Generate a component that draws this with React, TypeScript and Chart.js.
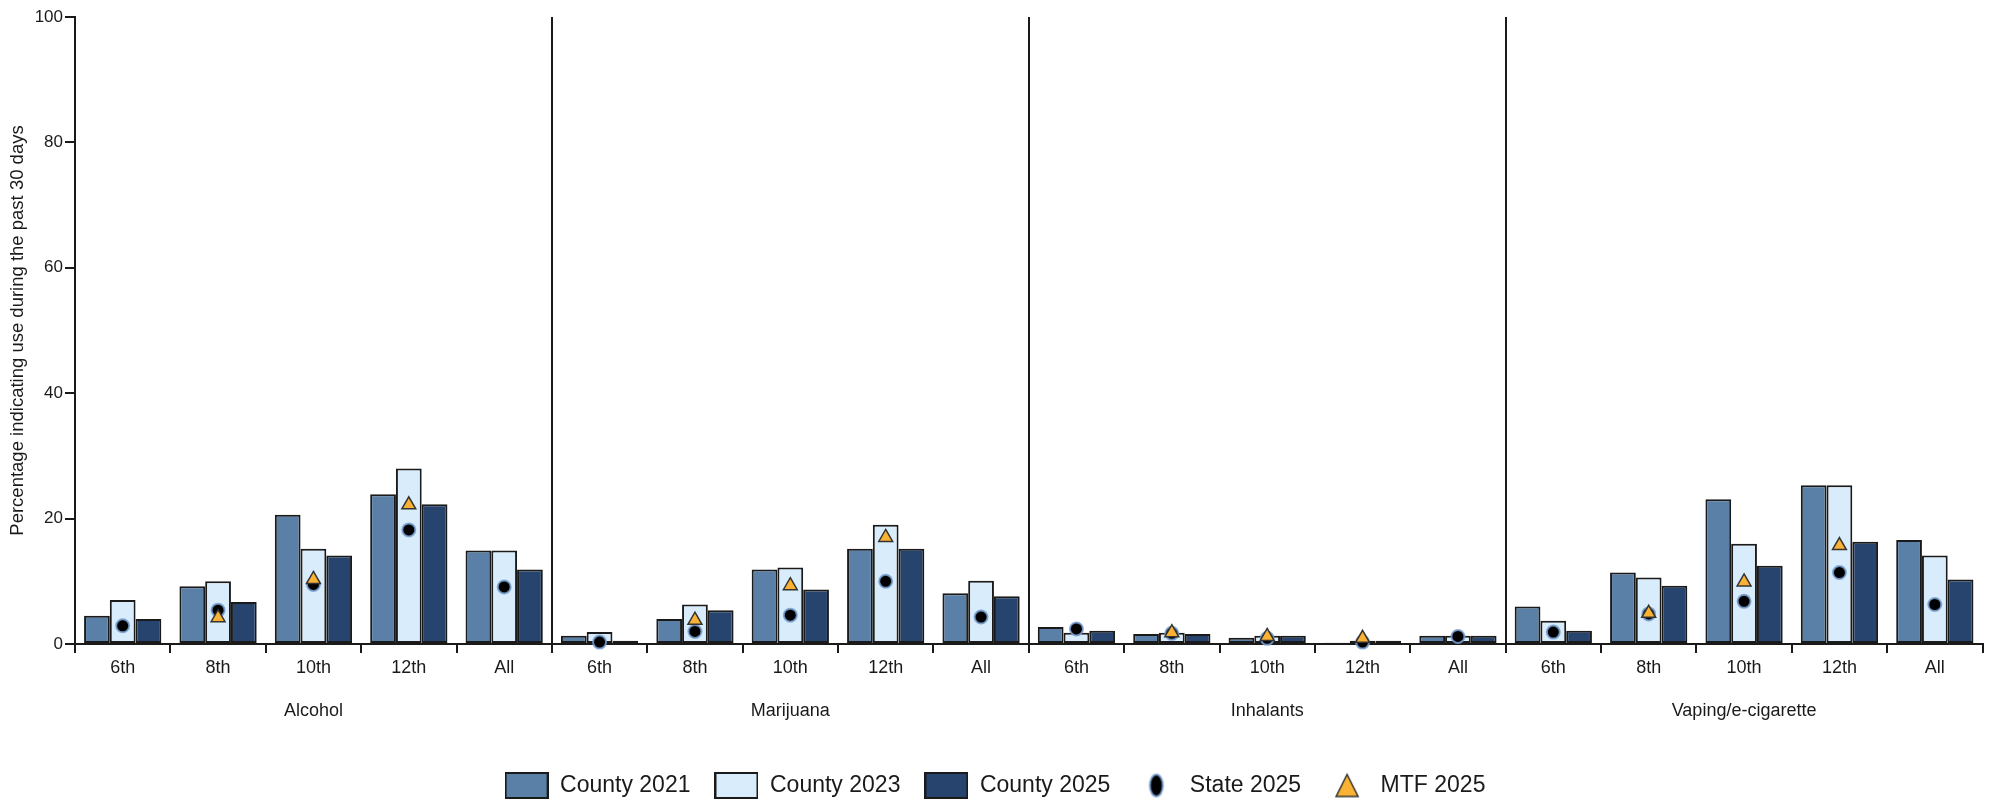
import { useEffect, useRef } from 'react';
import { Chart, registerables } from 'chart.js';

Chart.register(...registerables);

const substances = ['Alcohol', 'Marijuana', 'Inhalants', 'Vaping/e-cigarette'];
const grades = ['6th', '8th', '10th', '12th', 'All'];

// order: Alcohol(6th,8th,10th,12th,All), Marijuana(...), Inhalants(...), Vaping(...)
const county2021 = [4.5, 9.2, 20.6, 23.9, 14.9, 1.3, 4.0, 11.9, 15.2, 8.1, 2.7, 1.6, 1.0, 0.2, 1.3, 6.0, 11.4, 23.1, 25.3, 16.6];
const county2023 = [7.0, 10.0, 15.2, 28.0, 14.9, 1.9, 6.3, 12.2, 19.0, 10.1, 1.8, 1.8, 1.3, 0.5, 1.3, 3.7, 10.6, 16.0, 25.3, 14.1];
const county2025 = [4.0, 6.7, 14.1, 22.3, 11.9, 0.5, 5.4, 8.7, 15.2, 7.6, 2.1, 1.6, 1.3, 0.5, 1.3, 2.1, 9.3, 12.5, 16.3, 10.3];
const state2025 = [2.9, 5.4, 9.5, 18.2, 9.1, 0.3, 2.0, 4.6, 10.0, 4.3, 2.4, 1.7, 0.9, 0.3, 1.2, 1.9, 4.8, 6.8, 11.4, 6.3];
const mtf2025 = [null, 4.2, 10.3, 22.2, null, null, 3.8, 9.3, 17.0, null, null, 1.8, 1.2, 0.9, null, null, 4.9, 9.9, 15.7, null];

const yTicks = [0, 20, 40, 60, 80, 100];
const yTitle = 'Percentage indicating use during the past 30 days';
const seriesNames = ['County 2021', 'County 2023', 'County 2025', 'State 2025', 'MTF 2025'];

const FONT = '"Liberation Sans", Arial, sans-serif';
const INK = '#1a1a1a';
const C2021 = '#5b80a8';
const C2023 = '#d9ecfb';
const C2025 = '#26446e';
const ORANGE = '#f9b233';
const HALO = 'rgba(120,160,210,0.85)';

function makeBoxIcon(fill: string) {
  const c = document.createElement('canvas');
  c.width = 44;
  c.height = 27;
  const g = c.getContext('2d')!;
  g.fillStyle = fill;
  g.fillRect(1, 1, 42, 25);
  g.strokeStyle = INK;
  g.lineWidth = 2;
  g.strokeRect(1, 1, 42, 25);
  return c;
}

function makeCircleIcon() {
  const c = document.createElement('canvas');
  c.width = 18;
  c.height = 26;
  const g = c.getContext('2d')!;
  g.beginPath();
  g.ellipse(9, 13, 6.5, 11, 0, 0, Math.PI * 2);
  g.fillStyle = '#000';
  g.fill();
  g.strokeStyle = HALO;
  g.lineWidth = 2;
  g.stroke();
  return c;
}

function makeTriangleIcon() {
  const c = document.createElement('canvas');
  c.width = 26;
  c.height = 26;
  const g = c.getContext('2d')!;
  g.beginPath();
  g.moveTo(13, 2);
  g.lineTo(24, 24);
  g.lineTo(2, 24);
  g.closePath();
  g.fillStyle = ORANGE;
  g.fill();
  g.strokeStyle = '#333';
  g.lineWidth = 1.5;
  g.stroke();
  return c;
}

export default function App() {
  const ref = useRef<HTMLCanvasElement | null>(null);

  useEffect(() => {
    if (!ref.current) return;
    const labels = substances.flatMap((s) => grades.map((g, i) => (i === 2 ? [g, '', s] : g)));
    const icons = [makeBoxIcon(C2021), makeBoxIcon(C2023), makeBoxIcon(C2025), makeCircleIcon(), makeTriangleIcon()];

    const barCommon = {
      type: 'bar' as const,
      borderColor: INK,
      borderWidth: 2,
      borderSkipped: false as const,
      categoryPercentage: 0.81,
      barPercentage: 1.0,
      order: 3,
    };

    const chart = new Chart(ref.current, {
      type: 'bar',
      data: {
        labels,
        datasets: [
          { ...barCommon, label: seriesNames[0], data: county2021, backgroundColor: C2021 },
          { ...barCommon, label: seriesNames[1], data: county2023, backgroundColor: C2023 },
          { ...barCommon, label: seriesNames[2], data: county2025, backgroundColor: C2025 },
          {
            type: 'line',
            label: seriesNames[3],
            data: state2025,
            showLine: false,
            pointStyle: 'circle',
            pointRadius: 6.5,
            pointBackgroundColor: '#000',
            pointBorderColor: HALO,
            pointBorderWidth: 2,
            clip: false,
            order: 2,
          } as any,
          {
            type: 'line',
            label: seriesNames[4],
            data: mtf2025,
            showLine: false,
            pointStyle: 'triangle',
            pointRadius: 8,
            pointBackgroundColor: ORANGE,
            pointBorderColor: '#333',
            pointBorderWidth: 1.5,
            clip: false,
            order: 1,
          } as any,
        ],
      },
      options: {
        animation: false,
        responsive: true,
        maintainAspectRatio: false,
        events: [],
        layout: { padding: { top: 17, right: 2, bottom: -5, left: 0 } },
        scales: {
          x: {
            type: 'category',
            offset: true,
            grid: {
              offset: true,
              drawOnChartArea: true,
              color: (c: any) => (c.index % 5 === 0 ? INK : 'rgba(0,0,0,0)'),
              lineWidth: 2,
              tickColor: INK,
              tickWidth: 2,
              tickLength: 9,
            },
            border: { display: true, color: INK, width: 2 },
            ticks: {
              autoSkip: false,
              maxRotation: 0,
              minRotation: 0,
              padding: 4,
              color: INK,
              font: { family: FONT, size: 18 },
            },
            afterFit: (s: any) => {
              s.height = 106;
            },
          },
          y: {
            min: 0,
            max: 100,
            afterBuildTicks: (s: any) => {
              s.ticks = yTicks.map((v) => ({ value: v }));
            },
            grid: { drawOnChartArea: false, color: INK, lineWidth: 2, tickLength: 10 },
            border: { display: true, color: INK, width: 2 },
            ticks: { padding: 2, color: INK, font: { family: FONT, size: 17 } },
            title: {
              display: true,
              text: yTitle,
              color: INK,
              font: { family: FONT, size: 18.5 },
              padding: { top: 7, bottom: 0 },
            },
            afterFit: (s: any) => {
              s.width = 75;
            },
          },
        },
        plugins: {
          tooltip: { enabled: false },
          legend: {
            position: 'bottom',
            labels: {
              usePointStyle: true,
              pointStyleWidth: 44,
              padding: 24,
              color: INK,
              font: { family: FONT, size: 23 },
              generateLabels: (ch: any) =>
                ch.data.datasets.map((ds: any, i: number) => ({
                  text: ds.label,
                  pointStyle: icons[i],
                  datasetIndex: i,
                  hidden: false,
                  fillStyle: '#000',
                  strokeStyle: '#000',
                  lineWidth: 0,
                  fontColor: INK,
                })),
            },
          },
        },
      } as any,
    });

    return () => chart.destroy();
  }, []);

  return (
    <div style={{ position: 'fixed', left: 0, top: 0, width: 1992, height: 802, background: '#fff' }}>
      <canvas ref={ref} />
    </div>
  );
}
